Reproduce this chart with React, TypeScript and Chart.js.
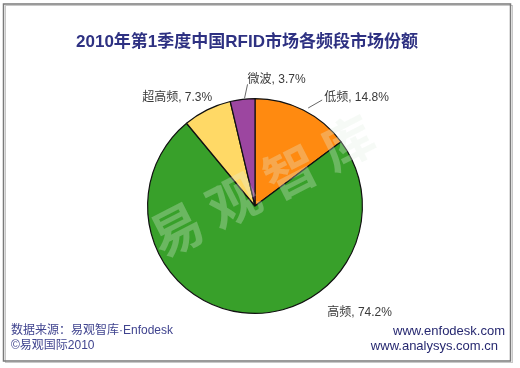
import React, { useEffect, useRef } from "react";
import { Chart, registerables } from "chart.js";

Chart.register(...registerables);

const categories = ["低频", "高频", "超高频", "微波"];
const shares = [14.8, 74.2, 7.3, 3.7];
const sliceColors = ["#FF8A10", "#38A02A", "#FFD966", "#9C46A0"];
const titleText = "2010年第1季度中国RFID市场各频段市场份额";
const sourceLines = ["数据来源：易观智库·Enfodesk", "©易观国际2010"];
const urlLines = ["www.enfodesk.com", "www.analysys.com.cn"];
const watermarkChars = ["易", "观", "智", "库"];

// label placement styling (offsets from slice edge point at mid-angle)
const labelOffsets = [
  { dx: 20, dy: -12, align: "left", leader: true },
  { dx: 85, dy: 0, align: "left", leader: false },
  { dx: 5, dy: -12, align: "right", leader: false },
  { dx: 4, dy: -20, align: "left", leader: true },
];

const FONT = "'Liberation Sans', Arial, 'Noto Sans CJK SC', sans-serif";

const overlayPlugin = {
  id: "overlay",
  afterDatasetsDraw(chart: any) {
    const ctx = chart.ctx as CanvasRenderingContext2D;
    ctx.save();
    ctx.fillStyle = "rgba(225,238,225,0.3)";
    ctx.font = "bold 52px 'Noto Sans CJK SC', sans-serif";
    ctx.textAlign = "center";
    ctx.textBaseline = "middle";
    const cx = 262, cy = 186, step = 64, ang = (-27 * Math.PI) / 180;
    watermarkChars.forEach((ch, i) => {
      const t = (i - 1.5) * step;
      ctx.save();
      ctx.translate(cx + t * Math.cos(ang), cy + t * Math.sin(ang));
      ctx.rotate(ang);
      ctx.fillText(ch, 0, 0);
      ctx.restore();
    });
    ctx.restore();
  },
  afterDraw(chart: any) {
    const ctx = chart.ctx as CanvasRenderingContext2D;
    ctx.save();
    ctx.strokeStyle = "#c8c8c8";
    ctx.lineWidth = 1;
    ctx.strokeRect(5.5, 5.5, 507, 357);
    ctx.strokeStyle = "#7a7a7a";
    ctx.lineWidth = 1.5;
    ctx.strokeRect(3.5, 4, 507, 357);

    ctx.fillStyle = "#2E3182";
    ctx.font = `bold 17px ${FONT}`;
    ctx.textAlign = "center";
    ctx.textBaseline = "middle";
    ctx.fillText(titleText, 247, 42);

    const meta = chart.getDatasetMeta(0);
    ctx.font = `12px ${FONT}`;
    ctx.textBaseline = "middle";
    meta.data.forEach((arc: any, i: number) => {
      const p = arc.getProps(["x", "y", "startAngle", "endAngle", "outerRadius"], true);
      const mid = (p.startAngle + p.endAngle) / 2;
      const ex = p.x + Math.cos(mid) * p.outerRadius;
      const ey = p.y + Math.sin(mid) * p.outerRadius;
      const o = labelOffsets[i];
      const lx = ex + o.dx;
      const ly = ey + o.dy;
      if (o.leader) {
        ctx.strokeStyle = "#404040";
        ctx.lineWidth = 0.8;
        ctx.beginPath();
        if (o.dx > 8) {
          ctx.moveTo(ex + 5, ey - 2);
          ctx.lineTo(lx - 1, ly + 2);
        } else {
          ctx.moveTo(ex + 2, ey - 1);
          ctx.lineTo(lx + 1, ly + 5);
        }
        ctx.stroke();
      }
      ctx.fillStyle = "#3a3a3a";
      ctx.textAlign = o.align as CanvasTextAlign;
      ctx.fillText(`${categories[i]}, ${shares[i]}%`, lx + (o.leader ? 1 : 0), ly);
    });

    ctx.fillStyle = "#40448F";
    ctx.font = `12px ${FONT}`;
    ctx.textAlign = "left";
    ctx.fillText(sourceLines[0], 11, 331);
    ctx.fillText(sourceLines[1], 11, 346);
    ctx.font = `13px ${FONT}`;
    ctx.fillStyle = "#262870";
    ctx.textAlign = "right";
    ctx.fillText(urlLines[0], 505, 331);
    ctx.fillText(urlLines[1], 498, 346);
    ctx.restore();
  },
};

export default function App() {
  const ref = useRef<HTMLCanvasElement>(null);
  useEffect(() => {
    if (!ref.current) return;
    const chart = new Chart(ref.current, {
      type: "pie",
      data: {
        labels: categories,
        datasets: [
          {
            data: shares,
            backgroundColor: sliceColors,
            borderColor: "#111111",
            borderWidth: 1.2,
          },
        ],
      },
      options: {
        animation: false,
        responsive: false,
        devicePixelRatio: 1,
        layout: { padding: { left: 147, right: 157, top: 97, bottom: 53 } },
        plugins: {
          legend: { display: false },
          tooltip: { enabled: false },
          title: { display: false },
        },
      },
      plugins: [overlayPlugin],
    });
    return () => chart.destroy();
  }, []);
  return (
    <div style={{ position: "absolute", left: 0, top: 0, width: 520, height: 368, background: "#fff" }}>
      <canvas ref={ref} width={520} height={368} />
    </div>
  );
}
